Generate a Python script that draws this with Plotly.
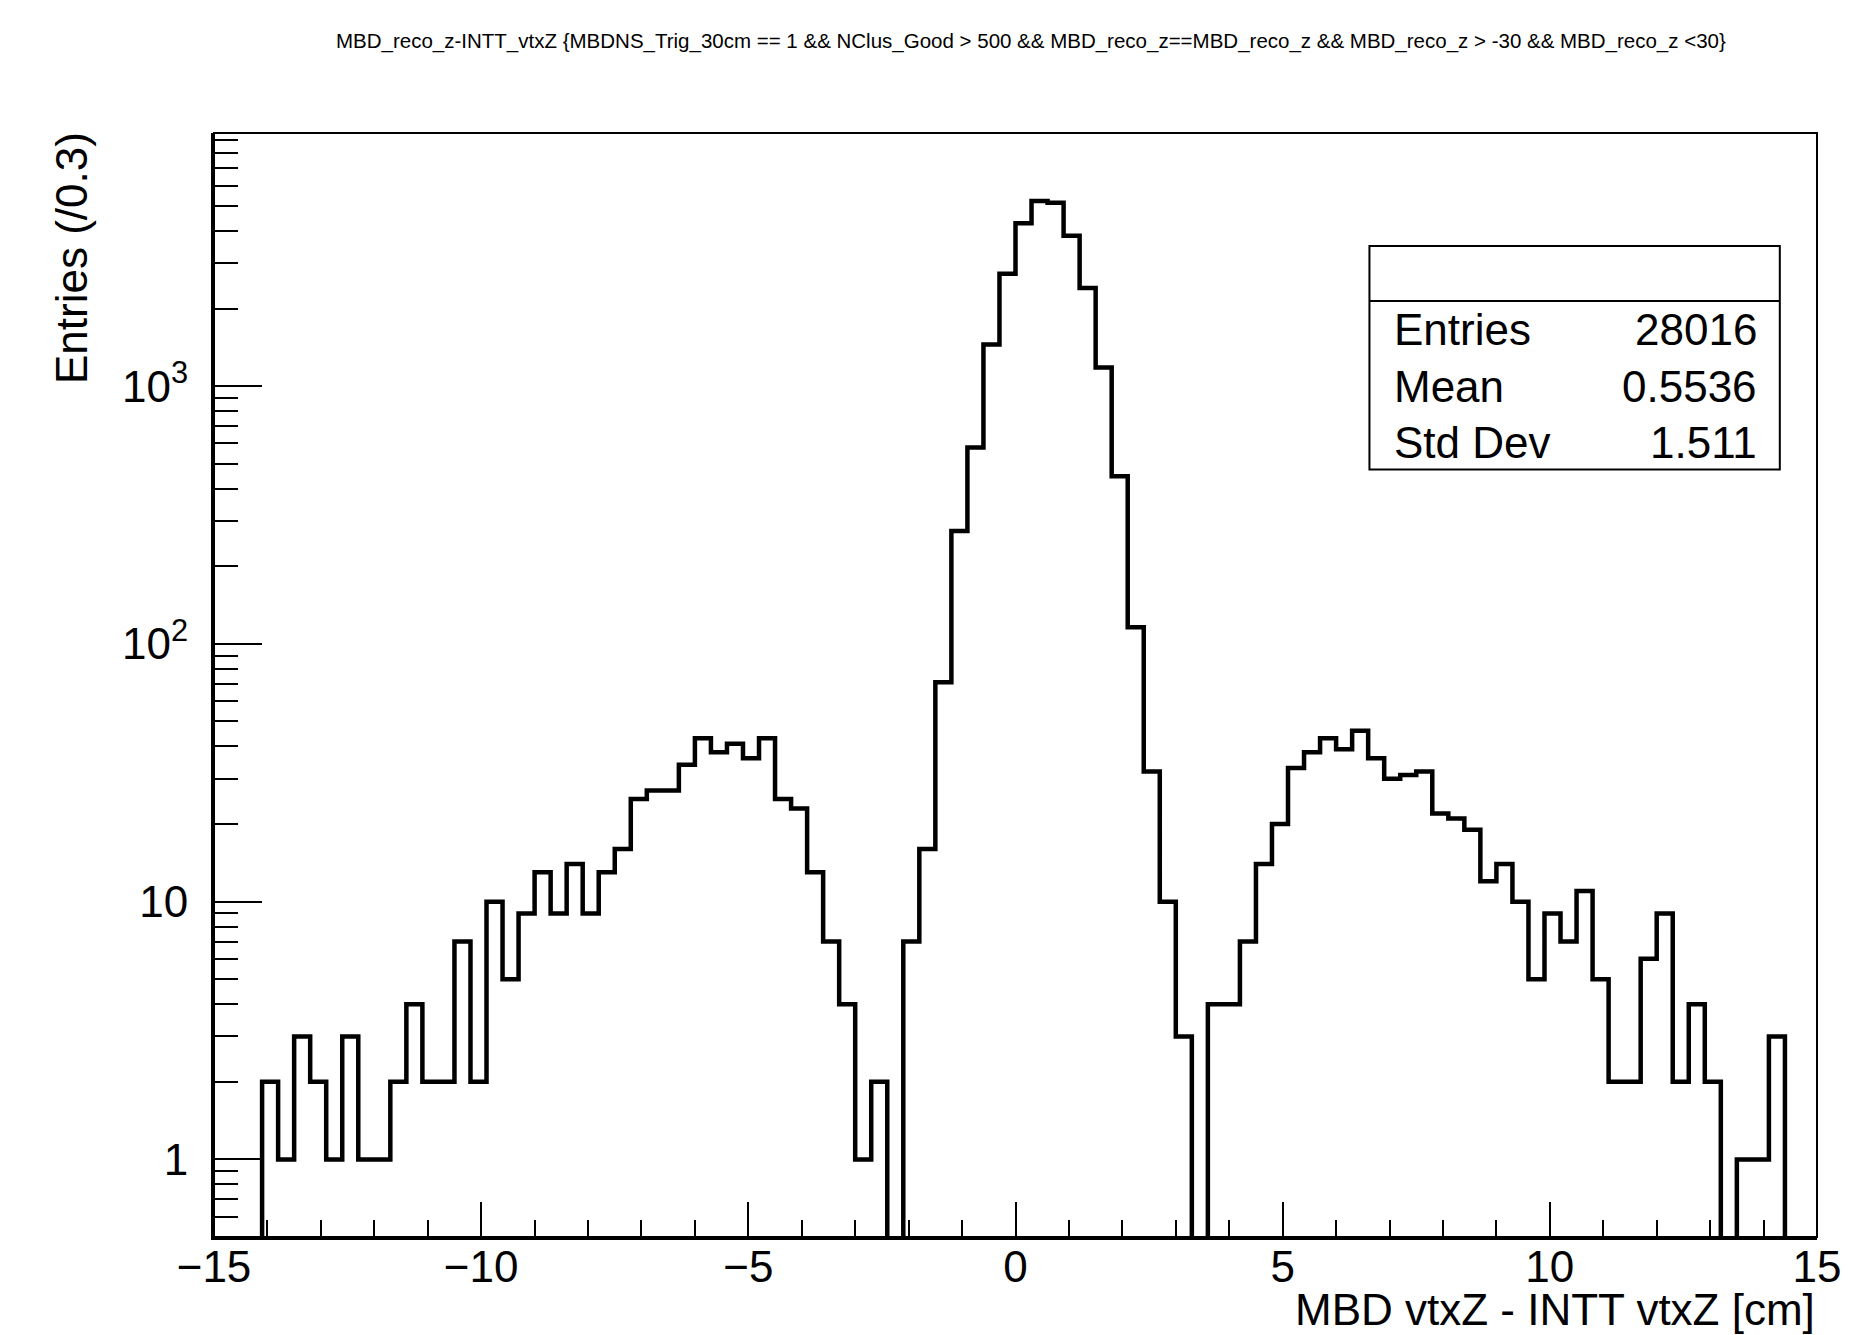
import numpy as np
import plotly.graph_objects as go

# ---------------- data ----------------
x_min = -15.0
x_max = 15.0
bin_width = 0.3
counts = [0, 0, 0, 2, 1, 3, 2, 1, 3, 1,
          1, 2, 4, 2, 2, 7, 2, 10, 5, 9,
          13, 9, 14, 9, 13, 16, 25, 27, 27, 34,
          43, 38, 41, 36, 43, 25, 23, 13, 7, 4,
          1, 2, 0, 7, 16, 71, 274, 578, 1450, 2730,
          4280, 5230, 5140, 3830, 2400, 1180, 447, 116, 32, 10,
          3, 0, 4, 4, 7, 14, 20, 33, 38, 43,
          39, 46, 36, 30, 31, 32, 22, 21, 19, 12,
          14, 10, 5, 9, 7, 11, 5, 2, 2, 6,
          9, 2, 4, 2, 0, 1, 1, 3, 0, 0]
stat_labels = ["Entries", "Mean", "Std Dev"]
stat_values = ["28016", "0.5536", "1.511"]
x_tick_vals = [-15, -10, -5, 0, 5, 10, 15]
x_tick_text = ["\u221215", "\u221210", "\u22125", "0", "5", "10", "15"]
y_tick_vals = [1, 10, 100, 1000]
y_tick_text = ["1", "10", "10<sup>2</sup>", "10<sup>3</sup>"]
title_text = ("MBD_reco_z-INTT_vtxZ {MBDNS_Trig_30cm == 1 &amp;&amp; NClus_Good &gt; 500 "
              "&amp;&amp; MBD_reco_z==MBD_reco_z &amp;&amp; MBD_reco_z &gt; -30 &amp;&amp; MBD_reco_z &lt;30}")
x_title = "MBD vtxZ - INTT vtxZ [cm]"
y_title = "Entries (/0.3)"

# ---------------- figure ----------------
FONT = "Liberation Sans, Arial, Helvetica, sans-serif"
FS = 44
y_lo, y_hi = np.log10(0.5), 3.982

n = len(counts)
edges = x_min + bin_width * np.arange(n + 1)
floor_val = 0.05  # empty bins drop below the visible range (as in ROOT log view)
yvals = [c if c > 0 else floor_val for c in counts]
yvals = yvals + [yvals[-1]]

fig = go.Figure()
fig.add_trace(go.Scatter(
    x=edges, y=yvals, mode="lines", line_shape="hv",
    line=dict(color="black", width=4.5), showlegend=False, hoverinfo="skip"))

minor_y = []
for d in [0.1, 1, 10, 100, 1000]:
    for m in range(2, 10):
        v = m * d
        if 0.5 < v < 10 ** y_hi and v not in (1, 10, 100, 1000):
            minor_y.append(v)

fig.update_layout(
    width=1856, height=1335,
    margin=dict(l=206, r=47, t=125, b=106, autoexpand=False),
    paper_bgcolor="white", plot_bgcolor="white",
    font=dict(family=FONT, color="black"),
    showlegend=False,
    xaxis=dict(range=[x_min, x_max], tickvals=x_tick_vals, ticktext=x_tick_text,
               ticks="inside", ticklen=35, tickwidth=2, tickcolor="black",
               minor=dict(dtick=1, ticks="inside", ticklen=17, tickwidth=2, tickcolor="black",
                          showgrid=False),
               showline=True, linewidth=3, linecolor="black", mirror=False,
               showgrid=False, zeroline=False, automargin=False,
               tickfont=dict(size=FS, family=FONT), ticklabelstandoff=-11),
    yaxis=dict(type="log", range=[y_lo, y_hi], tickvals=y_tick_vals, ticktext=y_tick_text,
               ticks="inside", ticklen=48, tickwidth=2, tickcolor="black",
               minor=dict(tickvals=minor_y, ticks="inside", ticklen=24, tickwidth=2,
                          tickcolor="black", showgrid=False),
               showline=True, linewidth=3, linecolor="black", mirror=False,
               showgrid=False, zeroline=False, automargin=False,
               tickfont=dict(size=FS, family=FONT), ticklabelstandoff=14),
)

# frame (top/right)
fig.add_shape(type="rect", xref="paper", yref="paper", x0=0, x1=1, y0=0, y1=1,
              line=dict(color="black", width=2), fillcolor="rgba(0,0,0,0)", layer="above")

# stats box
bx0, bx1, by0, by1, bdiv = 0.7208, 0.9768, 0.6953, 0.8977, 0.8478
fig.add_shape(type="rect", xref="paper", yref="paper", x0=bx0, x1=bx1, y0=by0, y1=by1,
              line=dict(color="black", width=2), fillcolor="white", layer="above")
fig.add_shape(type="line", xref="paper", yref="paper", x0=bx0, x1=bx1, y0=bdiv, y1=bdiv,
              line=dict(color="black", width=2), layer="above")
row_y = [0.8216, 0.7702, 0.7201]
for lab, val, yy in zip(stat_labels, stat_values, row_y):
    fig.add_annotation(xref="paper", yref="paper", x=0.7347, y=yy, text=lab, showarrow=False,
                       xanchor="left", yanchor="middle", font=dict(size=FS, family=FONT))
    fig.add_annotation(xref="paper", yref="paper", x=0.9640, y=yy, text=val, showarrow=False,
                       xanchor="right", yanchor="middle", font=dict(size=FS, family=FONT))

# title
fig.add_annotation(xref="paper", yref="paper", x=0.5097, y=1.0833, text=title_text,
                   showarrow=False, xanchor="center", yanchor="middle",
                   font=dict(size=20.5, family=FONT))
# axis titles
fig.add_annotation(xref="paper", yref="paper", x=1.0, y=-0.0661, text=x_title,
                   showarrow=False, xanchor="right", yanchor="middle",
                   font=dict(size=FS, family=FONT))
fig.add_annotation(xref="paper", yref="paper", x=-0.0892, y=1.0027, text=y_title,
                   showarrow=False, xanchor="center", yanchor="top", textangle=-90,
                   font=dict(size=FS, family=FONT))

fig.write_html("out.html")
